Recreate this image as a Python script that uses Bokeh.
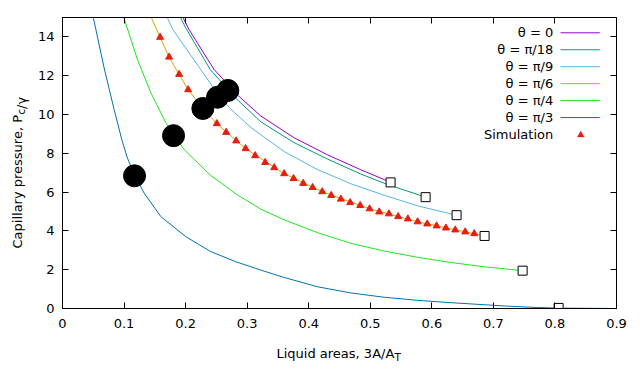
import math
from bokeh.plotting import figure
from bokeh.models import (Range1d, FixedTicker, LinearAxis, Label, Arrow,
                          PolyAnnotation, CustomJSTickFormatter)
from bokeh.embed import file_html
from bokeh.resources import INLINE

# ---------------- data ----------------
x_ticks = [0, 0.1, 0.2, 0.3, 0.4, 0.5, 0.6, 0.7, 0.8, 0.9]
x_tick_labels = ["0", "0.1", "0.2", "0.3", "0.4", "0.5", "0.6", "0.7", "0.8", "0.9"]
y_ticks = [0, 2, 4, 6, 8, 10, 12, 14]
y_tick_labels = ["0", "2", "4", "6", "8", "10", "12", "14"]

series_names = ["θ = 0", "θ = π/18", "θ = π/9", "θ = π/6", "θ = π/4", "θ = π/3"]
series_colors = ["#9400d3", "#009e73", "#56b4e9", "#e69f00", "#1ee61e", "#0072b2"]

theta0_x = [0.1950, 0.2052, 0.2356, 0.2463, 0.2844, 0.3222, 0.3763, 0.4306, 0.4847, 0.5335]
theta0_y = [15.05, 14.40, 12.85, 12.32, 11.00, 9.92, 8.80, 7.92, 7.15, 6.50]

pi18_x = [0.1911, 0.1987, 0.2399, 0.2844, 0.3222, 0.3763, 0.4306, 0.4847, 0.5281, 0.5822, 0.5899]
pi18_y = [15.05, 14.55, 12.32, 10.75, 9.62, 8.55, 7.70, 6.93, 6.39, 5.82, 5.74]

pi9_x = [0.1695, 0.1788, 0.2199, 0.2519, 0.2735, 0.3060, 0.3601, 0.4144, 0.4685, 0.5226, 0.5769, 0.6402]
pi9_y = [15.05, 14.40, 12.53, 11.08, 10.27, 9.33, 8.09, 7.16, 6.43, 5.84, 5.29, 4.81]

pi6_x = [0.1435, 0.1586, 0.1732, 0.1895, 0.2041, 0.2280, 0.2507, 0.2974, 0.3601, 0.4219, 0.4989, 0.5769, 0.6542, 0.6862]
pi6_y = [15.05, 13.98, 12.95, 12.07, 11.28, 10.31, 9.53, 8.24, 6.95, 6.02, 5.14, 4.47, 3.95, 3.74]

pi4_x = [0.0991, 0.1219, 0.1435, 0.1679, 0.1976, 0.2410, 0.2844, 0.3222, 0.3601, 0.4144, 0.4685, 0.5226, 0.5769, 0.6310, 0.6879, 0.7475]
pi4_y = [15.05, 12.82, 11.12, 9.57, 8.19, 6.85, 5.85, 5.12, 4.57, 3.91, 3.36, 2.96, 2.64, 2.37, 2.14, 1.95]

pi3_x = [0.0497, 0.0676, 0.0839, 0.0964, 0.1055, 0.1170, 0.1326, 0.1597, 0.2004, 0.2410, 0.2816, 0.3222, 0.3601, 0.4144, 0.4685, 0.5226, 0.5769, 0.6310, 0.7176, 0.7719, 0.8060, 0.9000]
pi3_y = [15.05, 12.40, 10.25, 8.70, 7.75, 6.90, 5.95, 4.74, 3.70, 2.93, 2.41, 1.98, 1.60, 1.12, 0.80, 0.58, 0.42, 0.30, 0.13, 0.05, 0.02, 0.00]

sim_x = [0.1586, 0.1732, 0.1895, 0.2041, 0.2507, 0.2659, 0.2821, 0.2974, 0.3130, 0.3292, 0.3439,
         0.3601, 0.3754, 0.3910, 0.4063, 0.4219, 0.4365, 0.4522, 0.4673, 0.4836, 0.4989, 0.5145,
         0.5302, 0.5453, 0.5611, 0.5769, 0.5925, 0.6077, 0.6229, 0.6380, 0.6542, 0.6689]
sim_y = [13.98, 12.96, 12.07, 11.28, 9.53, 9.08, 8.64, 8.24, 7.88, 7.53, 7.26,
         6.95, 6.70, 6.45, 6.24, 6.02, 5.83, 5.64, 5.46, 5.31, 5.14, 4.98,
         4.88, 4.74, 4.62, 4.47, 4.36, 4.26, 4.15, 4.05, 3.95, 3.86]

dot_x = [0.1170, 0.1804, 0.2280, 0.2519, 0.2686]
dot_y = [6.84, 8.91, 10.31, 10.89, 11.24]

end_x = [0.5330, 0.5899, 0.6402, 0.6857, 0.7475, 0.8060]
end_y = [6.50, 5.74, 4.81, 3.74, 1.95, 0.03]

curves_x = [theta0_x, pi18_x, pi9_x, pi6_x, pi4_x, pi3_x]
curves_y = [theta0_y, pi18_y, pi9_y, pi6_y, pi4_y, pi3_y]

FONT = "DejaVu Sans"
FS = "13px"
SUB_FS = "10.4px"
SIM_COLOR = "#e51e10"

# ---------------- figure ----------------
p = figure(width=636, height=376, output_backend="svg", toolbar_location=None,
           x_range=Range1d(0, 0.9), y_range=Range1d(0, 15),
           min_border_left=62, min_border_right=20, min_border_top=17, min_border_bottom=68)
p.xgrid.visible = False
p.ygrid.visible = False
p.outline_line_color = "black"
p.outline_line_width = 1
p.background_fill_color = "white"
p.border_fill_color = "white"

def style_axis(ax, ticks, labels, standoff, show_labels=True):
    ax.ticker = FixedTicker(ticks=ticks)
    ax.major_tick_in = 6
    ax.major_tick_out = 0
    ax.minor_tick_line_color = None
    ax.axis_line_color = "black"
    ax.major_tick_line_color = "black"
    ax.major_label_standoff = standoff
    ax.major_label_text_font = FONT
    ax.major_label_text_font_size = FS
    ax.major_label_text_color = "black"
    if show_labels:
        ax.major_label_overrides = {t: l for t, l in zip(ticks, labels)}
    else:
        ax.formatter = CustomJSTickFormatter(code="return ''")

style_axis(p.xaxis[0], x_ticks, x_tick_labels, 10)
style_axis(p.yaxis[0], y_ticks, y_tick_labels, 8)
top_axis = LinearAxis()
right_axis = LinearAxis()
p.add_layout(top_axis, "above")
p.add_layout(right_axis, "right")
style_axis(top_axis, x_ticks, x_tick_labels, 0, show_labels=False)
style_axis(right_axis, y_ticks, y_tick_labels, 0, show_labels=False)

# curves
for xs, ys, c in zip(curves_x, curves_y, series_colors):
    p.line(xs, ys, line_color=c, line_width=1)

# simulation points
p.scatter(sim_x, sim_y, marker="triangle", size=7, fill_color=SIM_COLOR, line_color=SIM_COLOR)

# big black dots
p.scatter(dot_x, dot_y, marker="circle", size=22, fill_color="black", line_color="black")

# end squares
p.scatter(end_x, end_y, marker="square", size=9, fill_color="white", line_color="black", line_width=1)

# ---------------- legend (gnuplot style: text then sample) ----------------
leg_text_x = 490.7
leg_top = 275.7
leg_step = 16.95
for i, (name, c) in enumerate(zip(series_names, series_colors)):
    yy = leg_top - i * leg_step
    p.add_layout(Label(x=leg_text_x, y=yy, x_units="screen", y_units="screen", text=name,
                       text_font=FONT, text_font_size=FS, text_align="right",
                       text_baseline="middle", text_color="black"))
    p.add_layout(Arrow(x_start=498, y_start=yy, x_end=537.3, y_end=yy,
                       start_units="screen", end_units="screen", end=None,
                       line_color=c, line_width=1))
yy = leg_top - 6 * leg_step
p.add_layout(Label(x=leg_text_x, y=yy, x_units="screen", y_units="screen", text="Simulation",
                   text_font=FONT, text_font_size=FS, text_align="right",
                   text_baseline="middle", text_color="black"))
p.add_layout(PolyAnnotation(xs=[514.8, 521.8, 518.3], ys=[yy - 2.5, yy - 2.5, yy + 3.5],
                            xs_units="screen", ys_units="screen",
                            fill_color=SIM_COLOR, fill_alpha=1.0, line_color=SIM_COLOR, line_width=1))

# ---------------- axis titles with subscripts (side panels) ----------------
def title_label(text, x, y, size, angle=0.0):
    return Label(x=x, y=y, x_units="screen", y_units="screen", text=text,
                 text_font=FONT, text_font_size=size, text_align="left", angle=angle,
                 text_baseline="alphabetic", text_color="black")

p.add_layout(title_label("Liquid areas, 3A/A", 214, -8, FS), "below")
p.add_layout(title_label("T", 332, 1, SUB_FS), "below")

p.add_layout(title_label("Capillary pressure, P", -1.9, 60, FS, math.pi / 2), "left")
p.add_layout(title_label("c", 13.2, 194.1, SUB_FS, math.pi / 2), "left")
p.add_layout(title_label("/γ", -595.5, 199.6, FS, math.pi / 2), "right")

open("out.html", "w").write(file_html(p, INLINE))
